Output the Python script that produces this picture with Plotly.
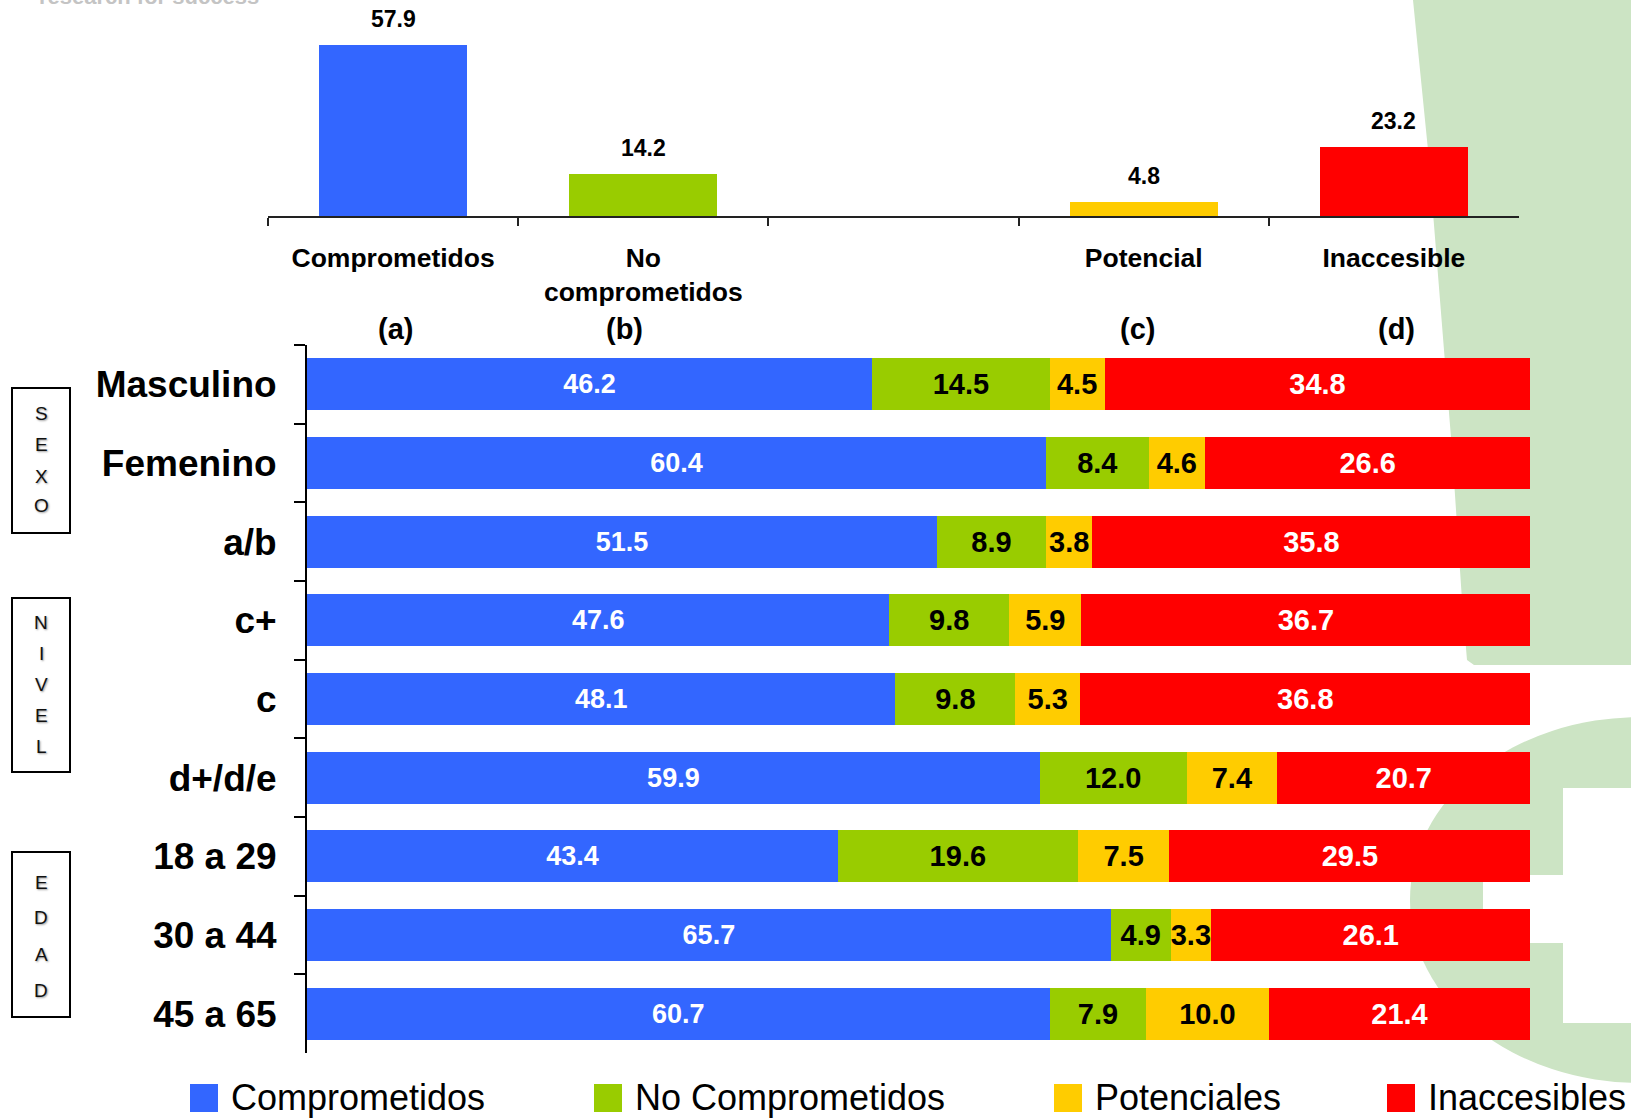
import plotly.graph_objects as go

W, H = 1631, 1119

# ---- summary chart (top) ----
top_categories = ["Comprometidos", "No<br>comprometidos", " ", "Potencial", "Inaccesible"]
top_values = [57.9, 14.2, None, 4.8, 23.2]
top_colors = ["#3366FF", "#99CC00", "#FFFFFF", "#FFCC00", "#FF0000"]
top_letters = ["(a)", "(b)", "(c)", "(d)"]

# ---- stacked breakdown by segment (bottom) ----
segments = ["Masculino", "Femenino", "a/b", "c+", "c", "d+/d/e", "18 a 29", "30 a 44", "45 a 65"]
comprometidos = [46.2, 60.4, 51.5, 47.6, 48.1, 59.9, 43.4, 65.7, 60.7]
no_comprometidos = [14.5, 8.4, 8.9, 9.8, 9.8, 12.0, 19.6, 4.9, 7.9]
potenciales = [4.5, 4.6, 3.8, 5.9, 5.3, 7.4, 7.5, 3.3, 10.0]
inaccesibles = [34.8, 26.6, 35.8, 36.7, 36.8, 20.7, 29.5, 26.1, 21.4]

series_names = ["Comprometidos", "No Comprometidos", "Potenciales", "Inaccesibles"]
series_values = [comprometidos, no_comprometidos, potenciales, inaccesibles]
series_colors = ["#3366FF", "#99CC00", "#FFCC00", "#FF0000"]
series_text_colors = ["white", "black", "black", "white"]
series_text_sizes = [27, 29, 29, 29]

group_titles = ["SEXO", "NIVEL", "EDAD"]

SANS = "Liberation Sans, Arial, sans-serif"
GREEN_BG = "#CCE4C4"


def px(x):
    return x / W


def py(y):
    return 1 - y / H


fig = go.Figure()

# top bars
fig.add_trace(go.Bar(
    x=top_categories, y=top_values, width=0.59,
    marker=dict(color=top_colors, line=dict(width=0)),
    xaxis="x", yaxis="y", showlegend=False, hoverinfo="x+y",
))

# bottom stacked bars
for name, vals, color, tcol, tsize in zip(series_names, series_values, series_colors,
                                          series_text_colors, series_text_sizes):
    fig.add_trace(go.Bar(
        y=segments, x=vals, name=name, orientation="h",
        marker=dict(color=color, line=dict(width=0)),
        text=[f"{v:.1f}" for v in vals],
        textposition="inside", insidetextanchor="middle", textangle=0,
        constraintext="none", cliponaxis=False,
        textfont=dict(family=SANS, size=tsize, color=tcol, weight="bold"),
        xaxis="x2", yaxis="y2", showlegend=False,
    ))

annotations = []

# value labels above the summary bars
for cat, v in zip(top_categories, top_values):
    if v is None:
        continue
    annotations.append(dict(
        x=cat, y=v, xref="x", yref="y", text=f"{v:.1f}", showarrow=False,
        yanchor="middle", yshift=26,
        font=dict(family=SANS, size=23, color="black", weight="bold"),
    ))

# (a)..(d) markers
for letter, xpos in zip(top_letters, [395, 624, 1137, 1396]):
    annotations.append(dict(
        x=px(xpos), y=py(329), xref="paper", yref="paper", text=letter, showarrow=False,
        xanchor="center", yanchor="middle",
        font=dict(family=SANS, size=29, color="black", weight="bold"),
    ))

# vertical group titles in boxes
group_boxes = [(388, 533), (598, 772), (852, 1017)]
group_letter_y = [[413, 445, 476, 506], [622, 653, 684, 715, 746], [882, 917, 954, 990]]
shapes = []
for title, (y0, y1), ys in zip(group_titles, group_boxes, group_letter_y):
    shapes.append(dict(type="rect", xref="paper", yref="paper",
                       x0=px(12), x1=px(70), y0=py(y1), y1=py(y0),
                       line=dict(color="black", width=2), fillcolor="rgba(0,0,0,0)"))
    for ch, yy in zip(title, ys):
        annotations.append(dict(
            x=px(41), y=py(yy), xref="paper", yref="paper", text=ch, showarrow=False,
            xanchor="center", yanchor="middle",
            font=dict(family=SANS, size=19, color="#111", shadow="1px 1px 2px #999"),
        ))

# legend row
legend_x = [190, 594, 1054, 1387]
for name, color, lx in zip(series_names, series_colors, legend_x):
    shapes.append(dict(type="rect", xref="paper", yref="paper",
                       x0=px(lx), x1=px(lx + 28), y0=py(1112), y1=py(1084),
                       line=dict(width=0), fillcolor=color))
    annotations.append(dict(
        x=px(lx + 39), y=py(1097), xref="paper", yref="paper", text=name, showarrow=False,
        xanchor="left", yanchor="middle",
        font=dict(family=SANS, size=36, color="black"),
    ))

# faint company tagline at the top-left edge
annotations.append(dict(
    x=px(37), y=1, xref="paper", yref="paper", text="research for success", showarrow=False,
    xanchor="left", yanchor="bottom", yshift=-11,
    font=dict(family=SANS, size=22, color="#C4C4C4", weight="bold"),
))


def path_px(points):
    return "M " + " L ".join(f"{px(x):.5f},{py(y):.5f}" for x, y in points) + " Z"


# decorative green backdrop on the right
bg_top = [(1413, 0), (1640, 0), (1640, 665), (1474, 665), (1467, 660), (1462, 600),
          (1452, 450), (1440, 300), (1428, 150)]
shapes.insert(0, dict(type="path", xref="paper", yref="paper", path=path_px(bg_top),
                      fillcolor=GREEN_BG, line=dict(width=0), layer="below"))
shapes.insert(1, dict(type="circle", xref="paper", yref="paper",
                      x0=px(1410), x1=px(1870), y0=py(1083), y1=py(717),
                      fillcolor=GREEN_BG, line=dict(width=0), layer="below"))
shapes.insert(2, dict(type="rect", xref="paper", yref="paper",
                      x0=px(1563), x1=px(1640), y0=py(1023), y1=py(788),
                      fillcolor="white", line=dict(width=0), layer="below"))
shapes.insert(3, dict(type="rect", xref="paper", yref="paper",
                      x0=px(1483), x1=px(1640), y0=py(943), y1=py(875),
                      fillcolor="white", line=dict(width=0), layer="below"))

fig.update_layout(
    width=W, height=H,
    margin=dict(l=0, r=0, t=0, b=0),
    paper_bgcolor="white", plot_bgcolor="rgba(0,0,0,0)",
    barmode="stack", bargap=0.34,
    showlegend=False,
    xaxis=dict(domain=[px(268), px(1519)], anchor="y", type="category",
               categoryorder="array", categoryarray=top_categories,
               tickson="boundaries", ticks="outside", ticklen=8, tickwidth=1.5, tickcolor="#222",
               showline=True, linecolor="#222", linewidth=1.5, showgrid=False, zeroline=False,
               ticklabelstandoff=17,
               tickfont=dict(family=SANS, size=26.5, color="black", weight="bold"),
               fixedrange=True),
    yaxis=dict(domain=[py(216), 1], anchor="x", range=[0, 73.0], visible=False, fixedrange=True),
    xaxis2=dict(domain=[px(307), px(1531)], anchor="y2", range=[0, 100.05], visible=False,
                fixedrange=True),
    yaxis2=dict(domain=[py(1053), py(345)], anchor="x2", type="category",
                categoryorder="array", categoryarray=segments, autorange="reversed",
                tickson="boundaries", ticks="outside", ticklen=11, tickwidth=2, tickcolor="black",
                showline=True, linecolor="black", linewidth=2, showgrid=False, zeroline=False,
                ticklabelstandoff=21,
                tickfont=dict(family=SANS, size=37, color="black", weight="bold"),
                fixedrange=True),
    annotations=annotations,
    shapes=shapes,
)

fig.write_html("out.html")
